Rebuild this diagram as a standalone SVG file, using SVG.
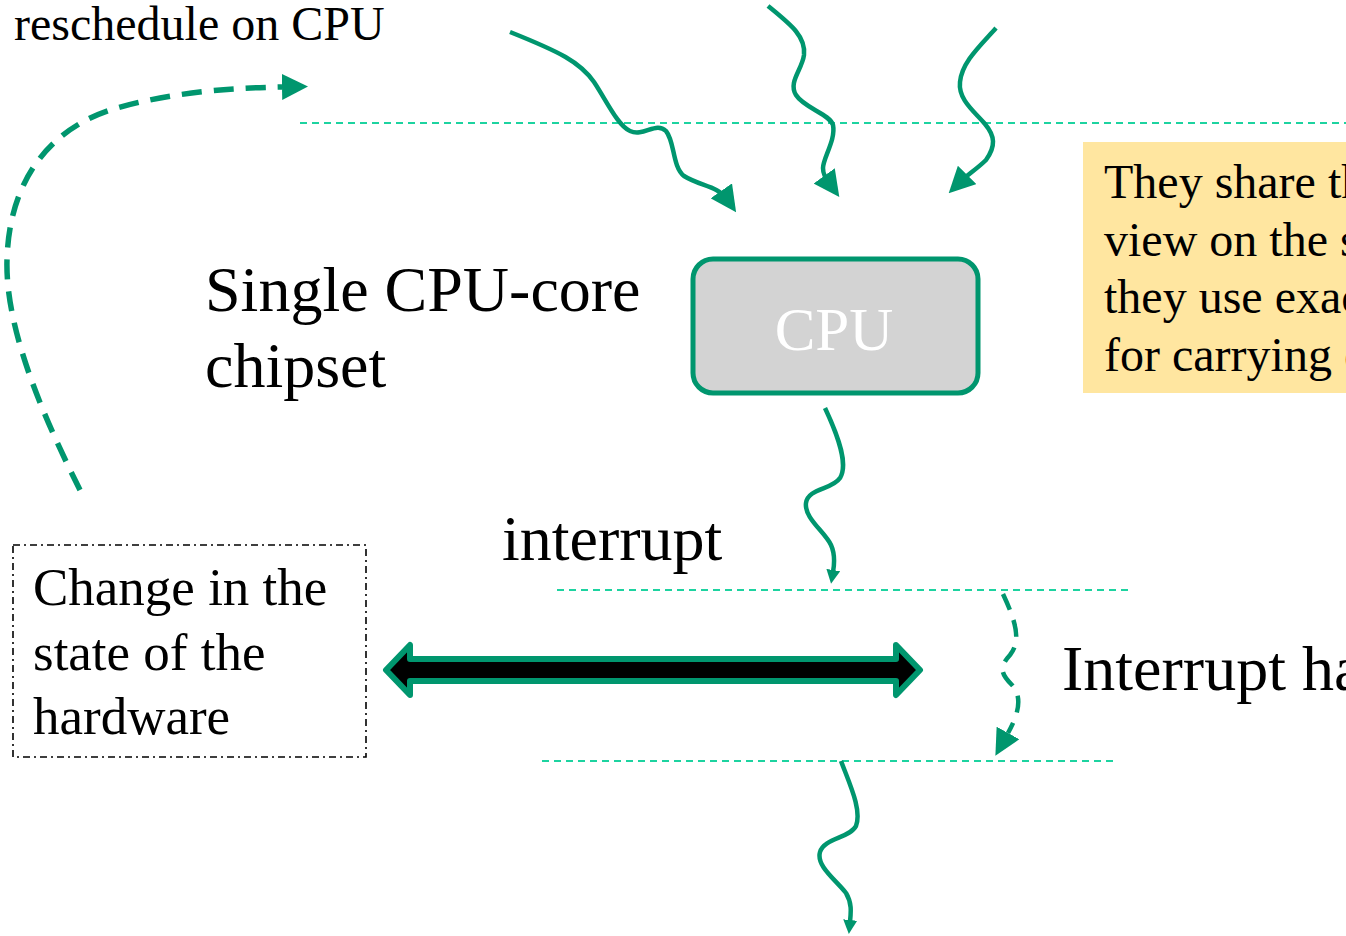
<svg xmlns="http://www.w3.org/2000/svg" width="1346" height="936" viewBox="0 0 1346 936">
<style>
text{font-family:"Liberation Serif","Times New Roman",serif;fill:#000}
.wire{fill:none;stroke:#00966E;stroke-width:4.5}
.dash{fill:none;stroke:#00966E;stroke-width:5.5;stroke-dasharray:20 12}
.dash2{fill:none;stroke:#00966E;stroke-width:4.5;stroke-dasharray:17 11}
.level{stroke:#1DD3A0;stroke-width:1.8;stroke-dasharray:7 5;fill:none}
</style>
<defs>
<marker id="headL" markerUnits="userSpaceOnUse" viewBox="0 0 26 26" markerWidth="26" markerHeight="26" refX="10" refY="13" orient="auto"><path d="M0,0 L26,13 L0,26 Z" fill="#00966E"/></marker>
<marker id="headS" markerUnits="userSpaceOnUse" viewBox="0 0 14 14" markerWidth="14" markerHeight="14" refX="2" refY="7" orient="auto"><path d="M0,0 L14,7 L0,14 Z" fill="#00966E"/></marker>
<marker id="headD" markerUnits="userSpaceOnUse" viewBox="0 0 26 26" markerWidth="26" markerHeight="26" refX="0" refY="13" orient="auto"><path d="M0,0 L26,13 L0,26 Z" fill="#00966E"/></marker>
</defs>
<rect width="1346" height="936" fill="#fff"/>

<g id="levels">
<line class="level" x1="300" y1="123" x2="1346" y2="123"/>
<line class="level" x1="557" y1="590" x2="1130" y2="590"/>
<line class="level" x1="542" y1="761" x2="1115" y2="761"/>
</g>

<g id="label-reschedule"><text x="14" y="40" font-size="48">reschedule on CPU</text></g>
<g id="label-chipset"><text x="205" y="311" font-size="64">Single CPU-core</text><text x="205" y="387" font-size="64">chipset</text></g>
<g id="label-interrupt"><text x="502" y="560" font-size="64">interrupt</text></g>
<g id="label-handler"><text x="1062" y="690" font-size="64">Interrupt handler</text></g>

<g id="cpu">
<rect x="693" y="259" width="285" height="134" rx="20" ry="20" fill="#D3D3D3" stroke="#00966E" stroke-width="5"/>
<text x="834" y="350" font-size="61" text-anchor="middle" style="fill:#fff">CPU</text>
</g>

<g id="note">
<rect x="1083" y="142" width="280" height="251" fill="#FFE6A0"/>
<text x="1104" y="198" font-size="48">They share the</text>
<text x="1104" y="256" font-size="48">view on the same</text>
<text x="1104" y="313" font-size="48">they use exactly</text>
<text x="1104" y="371" font-size="48">for carrying out</text>
</g>

<g id="hw-change">
<rect x="13" y="545" width="353" height="212" fill="none" stroke="#000" stroke-width="1.6" stroke-dasharray="7 4 2 4"/>
<text x="33" y="605" font-size="53">Change in the</text>
<text x="33" y="670" font-size="53">state of the</text>
<text x="33" y="734" font-size="53">hardware</text>
</g>

<g id="connectors">
<path class="wire" marker-end="url(#headL)" d="M510,32 C560,52 580,62 594,82 C606,100 618,126 630,131 C644,137 656,121 666,131 C675,142 672,166 684,176 C700,186 718,186 727,199"/>
<path class="wire" marker-end="url(#headL)" d="M768,6 C790,24 806,36 804,55 C802,70 788,82 796,95 C804,108 830,114 833,125 C836,140 823,158 823,168 C823,174 825,177 830,184"/>
<path class="wire" marker-end="url(#headL)" d="M996,28 C980,46 962,62 960,82 C958,100 975,112 985,124 C995,136 996,146 986,160 C978,168 966,176 960,182"/>
<path class="wire" marker-end="url(#headS)" d="M825,408 C840,440 848,465 840,478 C832,490 808,488 806,503 C804,518 825,532 831,545 C836,556 834,566 833,572"/>
<path class="wire" marker-end="url(#headS)" d="M841,761 C850,785 862,810 856,826 C850,838 824,838 820,852 C816,866 836,880 846,893 C852,903 851,912 850,922"/>
<path class="dash" marker-end="url(#headD)" d="M80,490 C45,420 5,330 7,260 C9,180 50,130 110,110 C170,92 230,88 282,87"/>
<path class="dash2" marker-end="url(#headD)" d="M1003,594 C1015,620 1022,640 1010,655 C998,668 1002,675 1012,685 C1026,700 1013,724 1008,733"/>
<path d="M386,670 L410,645 L410,659 L896,659 L896,645 L920,670 L896,695 L896,681 L410,681 L410,695 Z" fill="#000" stroke="#00966E" stroke-width="6" stroke-linejoin="round"/>
</g>
</svg>
